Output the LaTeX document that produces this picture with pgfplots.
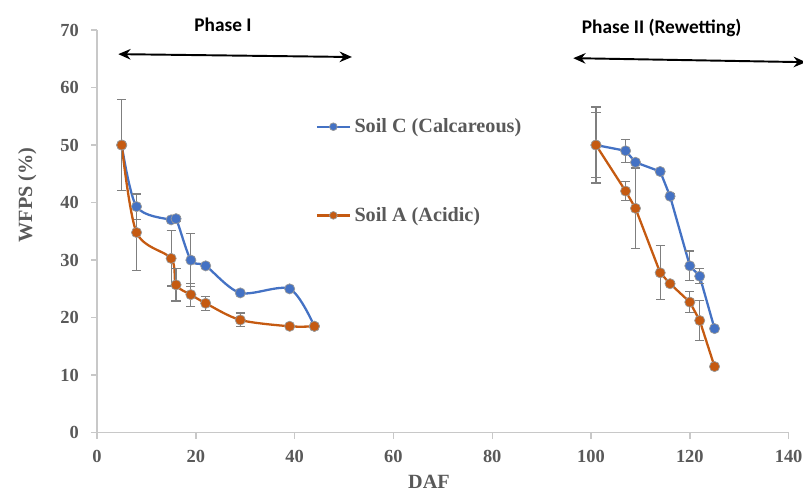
\documentclass[border=0pt]{standalone}
\usepackage{pgfplots}
\pgfplotsset{compat=1.18}
\usepackage{pgfplotstable}
\usepackage{fontspec}
\setmainfont{Liberation Serif}
\newfontfamily\phasefont{Carlito}
\usetikzlibrary{arrows.meta}
\definecolor{soilC}{HTML}{4472C4}
\definecolor{soilA}{HTML}{C55A11}
\definecolor{txtgrey}{HTML}{595959}
\definecolor{axgrey}{HTML}{C8C8C8}
\definecolor{errgrey}{HTML}{7F7F7F}

\pgfplotstableread{
x y e
5 50 0.3
8 39.3 2.2
15 37 0.4
16 37.2 0.4
19 30 4.6
22 29 0.4
29 24.3 0.3
39 25 0.3
44 18.5 0.3
}\soilCone
\pgfplotstableread{
x y e
5 50 7.9
8 34.8 6.6
15 30.3 4.8
16 25.7 2.8
19 24 2.0
22 22.5 1.2
29 19.6 1.2
39 18.5 0.3
44 18.5 0.3
}\soilAone
\pgfplotstableread{
x y e
101 50 6.6
107 49 2.0
109 47 0.4
114 45.4 0.4
116 41.1 0.4
120 29 2.6
122 27.2 1.3
125 18.1 0.3
}\soilCtwo
\pgfplotstableread{
x y e
101 50 5.6
107 42 1.7
109 39 7.0
114 27.8 4.7
116 25.9 0.4
120 22.7 1.8
122 19.5 3.5
125 11.5 0.3
}\soilAtwo

\begin{document}
\begin{tikzpicture}
\begin{axis}[
  name=ax,
  scale only axis,
  width=13.84cm, height=8.06cm,
  xmin=0, xmax=140, ymin=0, ymax=70,
  xtick={0,20,...,140}, ytick={0,10,...,70},
  axis lines=left,
  axis line style={axgrey, line width=0.8pt, -},
  tick style={axgrey, line width=0.8pt},
  tick align=outside,
  major tick length=0.12cm,
  /pgf/number format/assume math mode=true,
  tick label style={font=\fontsize{10.5}{12}\selectfont\bfseries, text=txtgrey},
  xticklabel style={yshift=-0.1cm},
  yticklabel style={xshift=-0.12cm},
  xlabel={DAF}, ylabel={WFPS (\%)},
  label style={font=\fontsize{11.5}{13}\selectfont\bfseries, text=txtgrey},
  xlabel style={at={(ticklabel cs:0.48)}, yshift=-0.02cm},
  ylabel style={at={(ticklabel cs:0.59)}, yshift=0.24cm},
  clip=false,
  legend style={at={(axis cs:44.2,55.3)}, anchor=north west, draw=none, fill=none,
    font=\fontsize{11.5}{13}\selectfont\bfseries, text=txtgrey, row sep=1.3cm,
    inner sep=0pt, cells={anchor=west}},
  legend image code/.code={\draw[#1, mark repeat=2, mark phase=2, mark size=2.2pt]
    plot coordinates {(0cm,0cm) (0.33cm,0cm) (0.66cm,0cm)};},
  error bars/y dir=both, error bars/y explicit,
  error bars/error bar style={errgrey, line width=0.7pt},
  error bars/error mark options={rotate=90, errgrey, mark size=2.6pt, line width=0.7pt},
]
\addplot[soilC, line width=1.3pt, smooth, tension=0.5, mark=*, mark size=2.9pt,
  mark options={fill=soilC, draw=errgrey!80, line width=0.4pt}]
  table[x=x, y=y, y error=e] {\soilCone};
\addlegendentry{Soil C (Calcareous)}
\addplot[soilA, line width=1.3pt, smooth, tension=0.5, mark=*, mark size=2.9pt,
  mark options={fill=soilA, draw=errgrey!80, line width=0.4pt}]
  table[x=x, y=y, y error=e] {\soilAone};
\addlegendentry{Soil A (Acidic)}
\addplot[soilC, line width=1.3pt, mark=*, mark size=2.9pt, forget plot,
  mark options={fill=soilC, draw=errgrey!80, line width=0.4pt}]
  table[x=x, y=y, y error=e] {\soilCtwo};
\addplot[soilA, line width=1.3pt, mark=*, mark size=2.9pt, forget plot,
  mark options={fill=soilA, draw=errgrey!80, line width=0.4pt}]
  table[x=x, y=y, y error=e] {\soilAtwo};
\draw[{Stealth[length=7pt,width=6pt]}-{Stealth[length=7pt,width=6pt]}, line width=1.1pt]
  (axis cs:4.3,65.8) -- (axis cs:51.6,65.3);
\draw[{Stealth[length=7pt,width=6pt]}-{Stealth[length=7pt,width=6pt]}, line width=1.1pt]
  (axis cs:96.4,65.1) -- (axis cs:143.5,64.4);
\node[font=\phasefont\fontsize{11}{13}\selectfont\bfseries] at (axis cs:25.5,70.9) {Phase I};
\node[font=\phasefont\fontsize{11}{13}\selectfont\bfseries] at (axis cs:114.3,70.4) {Phase II (Rewetting)};
\coordinate (bbsw) at (axis cs:-19.64,-10.77);
\coordinate (bbne) at (axis cs:142.91,75.21);
\end{axis}
\pgfresetboundingbox
\useasboundingbox (bbsw) rectangle (bbne);
\end{tikzpicture}
\end{document}
